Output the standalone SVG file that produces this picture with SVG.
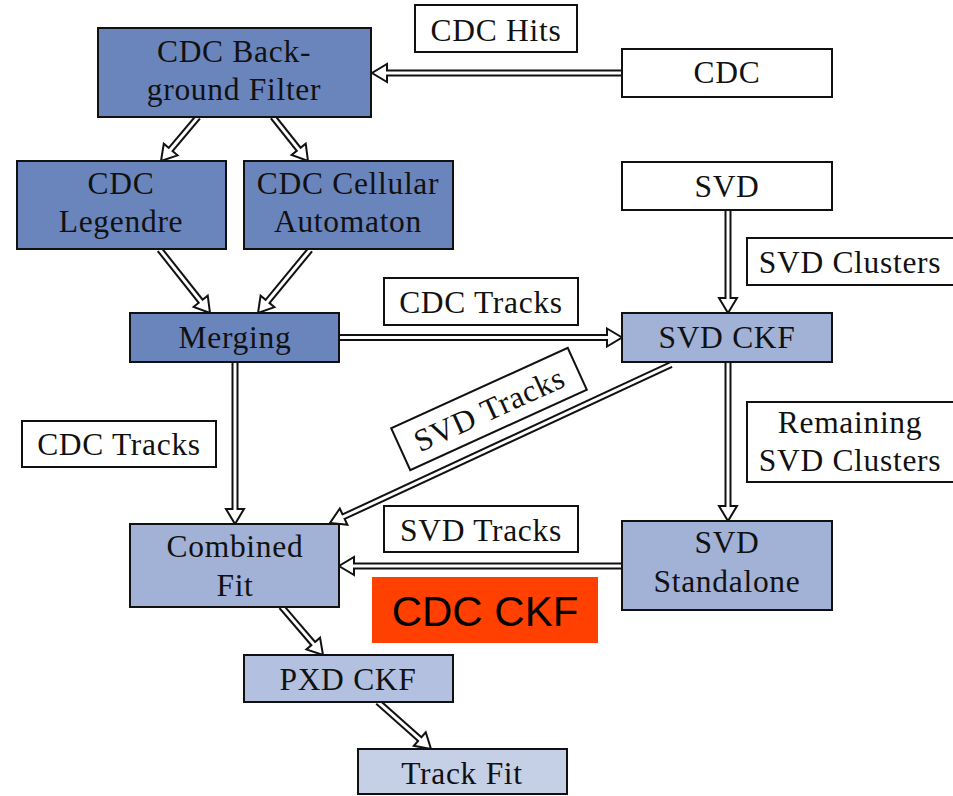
<svg xmlns="http://www.w3.org/2000/svg" xmlns:xlink="http://www.w3.org/1999/xlink" width="953" height="796" viewBox="0 0 953 796">
  <style>
    .box { stroke: #111; stroke-width: 2; }
    .dark { fill: #6A84BC; }
    .mid { fill: #A2B1D6; }
    .pxd { fill: #B3C0DF; }
    .fit { fill: #C5CFE6; }
    .plain { fill: #fff; }
    .t { font-family: "Liberation Serif", "Times New Roman", serif; font-size: 31.5px; letter-spacing: 0.7px; fill: #111; text-anchor: middle; }
    .rail { stroke: #111; stroke-width: 7; fill: none; }
    .core { stroke: #fff; stroke-width: 3; fill: none; }
    .tag { font-family: "Liberation Sans", Arial, sans-serif; font-size: 42px; fill: #000; text-anchor: middle; }
  </style>
  <defs>
    <!-- open arrowhead, tip at the origin, pointing along +x -->
    <path id="head" d="M-15,-9 L0,0 L-15,9 Z" fill="#fff" stroke="#111" stroke-width="2" stroke-linejoin="miter"/>
  </defs>
  <rect width="953" height="796" fill="#fff"/>

  <!-- connectors: double-line arrows, each drawn in a frame whose origin is the arrow tip -->
  <g id="connectors">
    <!-- CDC -> Background Filter -->
    <g transform="translate(372,73) rotate(180)">
      <use xlink:href="#head"/><line class="rail" x1="-250" y1="0" x2="-15" y2="0"/><line class="core" x1="-251" y1="0" x2="-12" y2="0"/>
    </g>
    <!-- Background Filter -> Legendre -->
    <g transform="translate(161,161) rotate(130.1)">
      <use xlink:href="#head"/><line class="rail" x1="-57.5" y1="0" x2="-15" y2="0"/><line class="core" x1="-58" y1="0" x2="-12" y2="0"/>
    </g>
    <!-- Background Filter -> Cellular Automaton -->
    <g transform="translate(308,161) rotate(51.5)">
      <use xlink:href="#head"/><line class="rail" x1="-56.5" y1="0" x2="-15" y2="0"/><line class="core" x1="-57" y1="0" x2="-12" y2="0"/>
    </g>
    <!-- Legendre -> Merging -->
    <g transform="translate(210,313) rotate(51.6)">
      <use xlink:href="#head"/><line class="rail" x1="-81" y1="0" x2="-15" y2="0"/><line class="core" x1="-81.5" y1="0" x2="-12" y2="0"/>
    </g>
    <!-- Cellular Automaton -> Merging -->
    <g transform="translate(258,313) rotate(129.5)">
      <use xlink:href="#head"/><line class="rail" x1="-82" y1="0" x2="-15" y2="0"/><line class="core" x1="-82.5" y1="0" x2="-12" y2="0"/>
    </g>
    <!-- Merging -> SVD CKF -->
    <g transform="translate(622,337.5)">
      <use xlink:href="#head"/><line class="rail" x1="-283" y1="0" x2="-15" y2="0"/><line class="core" x1="-284" y1="0" x2="-12" y2="0"/>
    </g>
    <!-- SVD -> SVD CKF -->
    <g transform="translate(728,313) rotate(90)">
      <use xlink:href="#head"/><line class="rail" x1="-103" y1="0" x2="-15" y2="0"/><line class="core" x1="-104" y1="0" x2="-12" y2="0"/>
    </g>
    <!-- SVD CKF -> SVD Standalone -->
    <g transform="translate(728,521) rotate(90)">
      <use xlink:href="#head"/><line class="rail" x1="-159" y1="0" x2="-15" y2="0"/><line class="core" x1="-160" y1="0" x2="-12" y2="0"/>
    </g>
    <!-- Merging -> Combined Fit -->
    <g transform="translate(235,524) rotate(90)">
      <use xlink:href="#head"/><line class="rail" x1="-162" y1="0" x2="-15" y2="0"/><line class="core" x1="-163" y1="0" x2="-12" y2="0"/>
    </g>
    <!-- SVD Standalone -> Combined Fit -->
    <g transform="translate(339,566) rotate(180)">
      <use xlink:href="#head"/><line class="rail" x1="-283" y1="0" x2="-15" y2="0"/><line class="core" x1="-284" y1="0" x2="-12" y2="0"/>
    </g>
    <!-- SVD CKF -> Combined Fit -->
    <g transform="translate(330,523) rotate(155.1)">
      <use xlink:href="#head"/><line class="rail" x1="-376" y1="0" x2="-15" y2="0"/><line class="core" x1="-376.5" y1="0" x2="-12" y2="0"/>
    </g>
    <!-- Combined Fit -> PXD CKF -->
    <g transform="translate(323,655) rotate(49.4)">
      <use xlink:href="#head"/><line class="rail" x1="-64" y1="0" x2="-15" y2="0"/><line class="core" x1="-64.5" y1="0" x2="-12" y2="0"/>
    </g>
    <!-- PXD CKF -> Track Fit -->
    <g transform="translate(431,749) rotate(41.6)">
      <use xlink:href="#head"/><line class="rail" x1="-71" y1="0" x2="-15" y2="0"/><line class="core" x1="-71.5" y1="0" x2="-12" y2="0"/>
    </g>
  </g>

  <!-- edge labels -->
  <g id="label-cdc-hits">
    <rect class="box plain" x="415" y="5" width="162" height="47"/>
    <text class="t" x="496" y="41">CDC Hits</text>
  </g>
  <g id="label-cdc-tracks-top">
    <rect class="box plain" x="384" y="278" width="194" height="47"/>
    <text class="t" x="481" y="313">CDC Tracks</text>
  </g>
  <g id="label-cdc-tracks-left">
    <rect class="box plain" x="22" y="421" width="194" height="46"/>
    <text class="t" x="119" y="455">CDC Tracks</text>
  </g>
  <g id="label-svd-clusters">
    <rect class="box plain" x="747" y="238" width="210" height="47"/>
    <text class="t" x="850" y="273">SVD Clusters</text>
  </g>
  <g id="label-remaining">
    <rect class="box plain" x="747" y="402" width="210" height="80"/>
    <text class="t" x="850" y="433">Remaining</text>
    <text class="t" x="850" y="471">SVD Clusters</text>
  </g>
  <g id="label-svd-tracks-diag" transform="translate(489,409) rotate(-24.5)">
    <rect class="box plain" x="-97" y="-23" width="194" height="46"/>
    <text class="t" x="0" y="11">SVD Tracks</text>
  </g>
  <g id="label-svd-tracks">
    <rect class="box plain" x="384" y="506" width="194" height="46"/>
    <text class="t" x="481" y="541">SVD Tracks</text>
  </g>

  <!-- nodes -->
  <g id="cdc">
    <rect class="box plain" x="622" y="49" width="210" height="48"/>
    <text class="t" x="727" y="83">CDC</text>
  </g>
  <g id="svd">
    <rect class="box plain" x="622" y="162" width="210" height="48"/>
    <text class="t" x="727" y="197">SVD</text>
  </g>
  <g id="bg-filter">
    <rect class="box dark" x="98" y="28" width="273" height="89"/>
    <text class="t" x="234" y="62">CDC Back-</text>
    <text class="t" x="234" y="100">ground Filter</text>
  </g>
  <g id="legendre">
    <rect class="box dark" x="17" y="161" width="209" height="88"/>
    <text class="t" x="121" y="194">CDC</text>
    <text class="t" x="121" y="232">Legendre</text>
  </g>
  <g id="cellular-automaton">
    <rect class="box dark" x="244" y="161" width="209" height="88"/>
    <text class="t" x="348" y="194">CDC Cellular</text>
    <text class="t" x="348" y="232">Automaton</text>
  </g>
  <g id="merging">
    <rect class="box dark" x="130" y="313" width="209" height="49"/>
    <text class="t" x="235" y="348">Merging</text>
  </g>
  <g id="svd-ckf">
    <rect class="box mid" x="622" y="313" width="210" height="49"/>
    <text class="t" x="727" y="348">SVD CKF</text>
  </g>
  <g id="combined-fit">
    <rect class="box mid" x="130" y="524" width="209" height="83"/>
    <text class="t" x="235" y="557">Combined</text>
    <text class="t" x="235" y="596">Fit</text>
  </g>
  <g id="svd-standalone">
    <rect class="box mid" x="622" y="521" width="210" height="89"/>
    <text class="t" x="727" y="553">SVD</text>
    <text class="t" x="727" y="592">Standalone</text>
  </g>
  <g id="pxd-ckf">
    <rect class="box pxd" x="244" y="655" width="209" height="47"/>
    <text class="t" x="348" y="690">PXD CKF</text>
  </g>
  <g id="track-fit">
    <rect class="box fit" x="358" y="749" width="209" height="45"/>
    <text class="t" x="462" y="784">Track Fit</text>
  </g>

  <!-- highlight tag -->
  <g id="cdc-ckf">
    <rect x="372" y="577" width="226" height="66" fill="#FF4000"/>
    <text class="tag" x="485" y="626">CDC CKF</text>
  </g>
</svg>
